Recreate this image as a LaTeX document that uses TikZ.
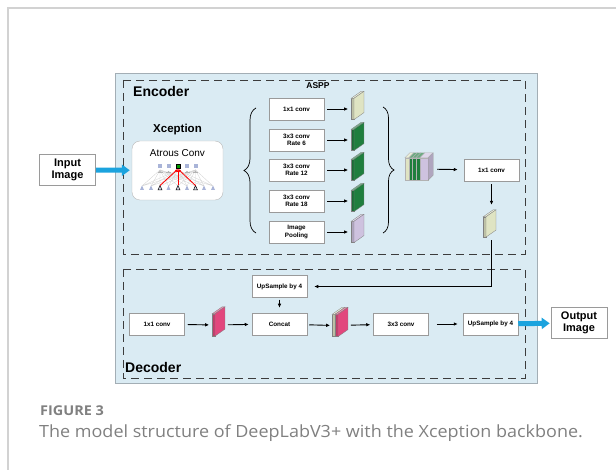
\documentclass[tikz,border=0pt]{standalone}
\usepackage{fontspec}
\setmainfont{Liberation Sans}
\newfontfamily\capfont[FakeStretch=1.07]{Open Sans}
\usetikzlibrary{arrows.meta,decorations.pathreplacing,positioning}
\definecolor{panelblue}{HTML}{DAEBF3}
\definecolor{panelline}{HTML}{A3AEB5}
\definecolor{dashgray}{HTML}{3C3C3C}
\definecolor{boxline}{HTML}{9A9A9A}
\definecolor{feedblue}{HTML}{1BA3DE}
\definecolor{creamfeat}{HTML}{DFE4C3}
\definecolor{greenfeat}{HTML}{1F7E3E}
\definecolor{lilacfeat}{HTML}{CEC2DF}
\definecolor{pinkfeat}{HTML}{E2477D}
\definecolor{unitblue}{HTML}{A9B4D8}
\definecolor{capgray}{HTML}{808080}
% feature slab: name, front centre, colour, height
\newcommand{\slab}[4]{%
\node[slabfront,fill=#3!85!black,minimum height=#4] (#1) at (#2) {};
\filldraw[fill=#3!60!white,draw=black!50,line width=.3pt] (#1.north west) -- ++(10,-7) -- ([xshift=10,yshift=7]#1.north east) -- (#1.north east) -- cycle;
\filldraw[fill=#3,draw=black!50,line width=.3pt] (#1.north east) -- ++(10,-7) -- ([xshift=10,yshift=7]#1.south east) -- (#1.south east) -- cycle;}
\begin{document}
\begin{tikzpicture}[x=1pt,y=-1pt,
opbox/.style={draw=boxline,fill=white,line width=.5pt,minimum width=55pt,minimum height=22pt,inner sep=0pt,align=center,font=\bfseries\fontsize{6.3}{7.4}\selectfont},
iobox/.style={draw=boxline,fill=white,line width=.6pt,minimum width=56pt,minimum height=31pt,inner sep=0pt,align=center,font=\bfseries\fontsize{11}{12.5}\selectfont},
arr/.style={-{Latex[length=4pt,width=3.6pt]},line width=.9pt,shorten <=3pt,shorten >=3pt},
bigarr/.style={-{Triangle[length=8pt,width=11pt]},line width=5pt,feedblue},
slabfront/.style={draw=black!50,line width=.3pt,minimum width=2.5pt,inner sep=0pt},
part/.style={dash pattern=on 8pt off 5pt,draw=dashgray,line width=.9pt},
title/.style={font=\bfseries\fontsize{14}{16}\selectfont,inner sep=0pt,anchor=west}]
\useasboundingbox (0,0) rectangle (616,470);
% page frame
\draw[gray!35,line width=1.2pt] (8,470) -- (8,8) -- (616,8);
% panel
\filldraw[fill=panelblue,draw=panelline,line width=.6pt] (115,73) rectangle (537,383);
\draw[part] (123,80) rectangle (525,254);
\draw[part] (123,269) rectangle (525,378);
\node[title] (enc) at (133,91) {Encoder};
\node[title] (dec) at (125,367) {Decoder};
% input and backbone
\node[iobox] (inimg) at (67.5,170) {Input\\Image};
\node[draw=gray!55,fill=white,rounded corners=8pt,minimum width=91pt,minimum height=59pt] (atrous) at (177.5,170.5) {};
\node[font=\bfseries\fontsize{11.5}{13}\selectfont] (xcep) at (177.5,130) {Xception};
\node[font=\fontsize{10}{12}\selectfont] (atlab) at (177.5,153) {Atrous Conv};
\draw[bigarr,shorten >=2pt] (inimg) -- (atrous);
\foreach \x in {142,151,160,168.5,178,187,195.5,204,213}
  \draw[gray!35,line width=.3pt] (\x,186) -- (178,170) (\x,186) -- (160,170) (\x,186) -- (195.5,170);
\foreach \x in {160,168.5,187,195.5}
  {\fill[unitblue] (\x-2,164.5) rectangle (\x+2,168.5);
   \draw[gray!60,line width=.4pt] (\x-2.5,172) -- (\x+2.5,172);
   \fill[gray!60] (\x,172) circle (1);}
\filldraw[fill=green!60!black,draw=black,line width=.5pt] (176,164.5) rectangle (180,168.5);
\foreach \x in {142,151,168.5,187,204,213}
  \fill[unitblue] (\x-2,190) -- (\x+2,190) -- (\x,185.5) -- cycle;
\foreach \x in {160,178,195.5}
  {\filldraw[fill=unitblue!50,draw=black,line width=.5pt] (\x-2,190) -- (\x+2,190) -- (\x,185.5) -- cycle;
   \draw[red,line width=.8pt,-{Latex[length=3pt,width=2.6pt]}] (\x,185.5) -- (178,169);}
% ASPP branches
\node[font=\bfseries\fontsize{8.5}{10}\selectfont] (aspplab) at (318,86) {ASPP};
\foreach \i/\txt/\col/\yy in {1/{1x1 conv}/creamfeat/109,2/{3x3 conv\\Rate 6}/greenfeat/140,3/{3x3 conv\\Rate 12}/greenfeat/170,4/{3x3 conv\\Rate 18}/greenfeat/201,5/{Image\\Pooling}/lilacfeat/232}
{\node[opbox] (aspp\i) at (296.5,\yy) {\txt};
 \slab{feat\i}{352.5,\yy}{\col}{21pt}
 \draw[arr] (aspp\i) -- (feat\i);}
\draw[decorate,decoration={brace,amplitude=12pt},line width=.7pt] (256,233) -- (256,108);
\draw[decorate,decoration={brace,amplitude=11pt},line width=.7pt] (383,107) -- (383,233);
% concatenated features
\node[inner sep=0pt,minimum width=23pt,minimum height=22pt] (cb) at (416.5,169) {};
\foreach \a/\b/\c in {0/4/creamfeat,4/7.5/greenfeat,7.5/11/greenfeat,11/15/greenfeat,15/23/lilacfeat}
{\filldraw[fill=\c,draw=black!30,line width=.25pt] ([xshift=\a]cb.south west) rectangle ([xshift=\b]cb.north west);
 \filldraw[fill=\c!65!white,draw=black!30,line width=.25pt] ([xshift=\a]cb.north west) -- ++(5,-5) -- ([xshift=\b+5,yshift=5]cb.north west) -- ([xshift=\b]cb.north west) -- cycle;}
\filldraw[fill=lilacfeat!85!black,draw=black!40,line width=.3pt] (cb.north east) -- ++(5,-5) -- ([xshift=5,yshift=5]cb.south east) -- (cb.south east) -- cycle;
\node[opbox] (conv1e) at (491.5,170) {1x1 conv};
\draw[arr,shorten <=9pt,shorten >=6pt] (cb) -- (conv1e);
\slab{eslab}{484.5,227}{creamfeat}{20pt}
\draw[arr,shorten >=12pt] (conv1e.south) -- (conv1e.south |- eslab.north);
% decoder
\node[opbox] (upd) at (279.5,286.5) {UpSample by 4};
\node[opbox] (conv1d) at (157,324) {1x1 conv};
\slab{dslab}{213.5,325}{pinkfeat}{22pt}
\node[opbox] (concat) at (279.5,324) {Concat};
\slab{mixa}{333.5,325.5}{creamfeat}{22pt}
\slab{mixb}{336.5,325.5}{pinkfeat}{22pt}
\node[opbox] (conv3) at (401,324) {3x3 conv};
\node[opbox] (upo) at (490.5,324) {UpSample by 4};
\node[iobox] (outimg) at (579,323) {Output\\Image};
\draw[arr,shorten <=3pt,shorten >=7pt] (conv1e.south |- eslab.south) |- (upd.east);
\draw[arr] (conv1d) -- (dslab);
\draw[arr,shorten <=13pt] (dslab) -- (concat);
\draw[arr,shorten <=2pt,shorten >=5pt] (upd) -- (concat);
\draw[arr,shorten <=2pt,shorten >=2pt] (concat) -- (mixa);
\draw[arr,shorten <=13pt] (mixb) -- (conv3);
\draw[arr,shorten <=8pt,shorten >=5pt] (conv3) -- (upo);
\draw[bigarr,shorten >=1pt] (upo) -- (outimg);
% caption
\node[text=capgray,font=\capfont\bfseries\fontsize{13.5}{15}\selectfont,anchor=base west,inner sep=0pt] (fig) at (40,415) {FIGURE 3};
\node[text=capgray,font=\capfont\fontsize{16.8}{19}\selectfont,anchor=base west,inner sep=0pt] (cap) at (39,437) {The model structure of DeepLabV3+ with the Xception backbone.};
\end{tikzpicture}
\end{document}
